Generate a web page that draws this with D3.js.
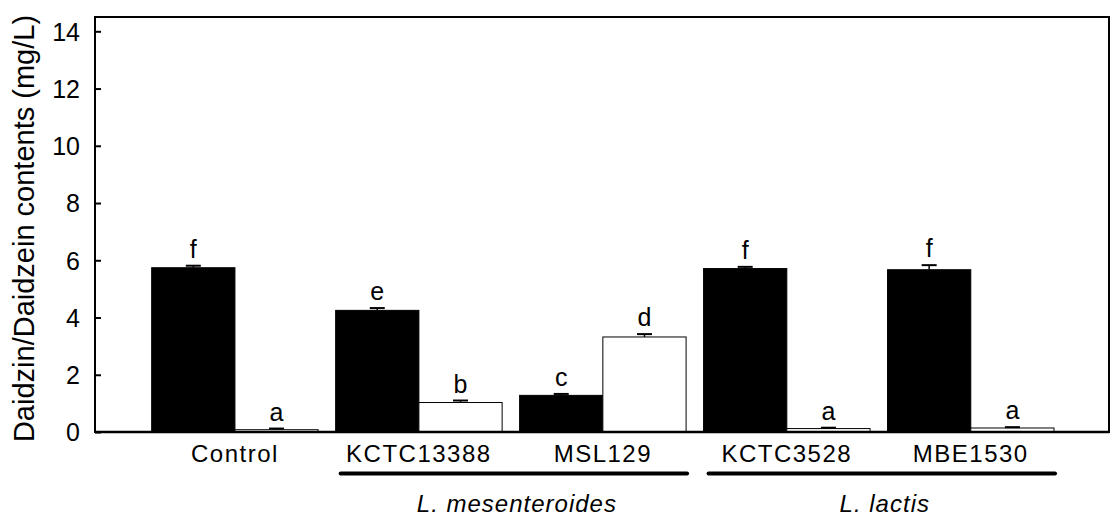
<!DOCTYPE html>
<html>
<head>
<meta charset="utf-8">
<script src="https://cdn.jsdelivr.net/npm/d3@7"></script>
<style>
  html, body { margin: 0; padding: 0; background: #fff; }
  svg text { font-family: Arial, "Liberation Sans", sans-serif; fill: #000; }
</style>
</head>
<body>
<svg id="chart" width="1120" height="523"></svg>
<script>
const groups = ["Control", "KCTC13388", "MSL129", "KCTC3528", "MBE1530"];
const daidzin = [5.74, 4.25, 1.28, 5.71, 5.67];
const daidzinErr = [0.07, 0.08, 0.05, 0.06, 0.16];
const daidzein = [0.08, 1.03, 3.32, 0.12, 0.14];
const daidzeinErr = [0.04, 0.07, 0.10, 0.03, 0.03];
const lettersDaidzin = ["f", "e", "c", "f", "f"];
const lettersDaidzein = ["a", "b", "d", "a", "a"];
const yTicks = [0, 2, 4, 6, 8, 10, 12, 14];
const species = ["L. mesenteroides", "L. lactis"];
const speciesMembers = [["KCTC13388", "MSL129"], ["KCTC3528", "MBE1530"]];
const yLabel = "Daidzin/Daidzein contents (mg/L)";

(function () {
const svg = d3.select("#chart");
const mLeft = 95, mRight = 1109, mTop = 17, mBottom = 432;

const x = d3.scaleBand().domain(groups).range([142.95, 1062.75])
  .paddingInner(0.095).paddingOuter(0.0475);
const y = d3.scaleLinear().domain([0, 14.5]).range([mBottom, mTop]);
const half = x.bandwidth() / 2;

const series = [
  { vals: daidzin, errs: daidzinErr, letters: lettersDaidzin, fill: "#000", off: 0 },
  { vals: daidzein, errs: daidzeinErr, letters: lettersDaidzein, fill: "#fff", off: half }
];

series.forEach(s => {
  const g = svg.append("g");
  g.selectAll("rect").data(groups).join("rect")
    .attr("x", d => x(d) + s.off)
    .attr("y", (d, i) => y(s.vals[i]))
    .attr("width", half)
    .attr("height", (d, i) => y(0) - y(s.vals[i]))
    .attr("fill", s.fill)
    .attr("stroke", "#000")
    .attr("stroke-width", 1);
  g.selectAll("line.err").data(groups).join("line").attr("class", "err")
    .attr("x1", d => x(d) + s.off + half / 2)
    .attr("x2", d => x(d) + s.off + half / 2)
    .attr("y1", (d, i) => y(s.vals[i]))
    .attr("y2", (d, i) => y(s.vals[i] + s.errs[i]))
    .attr("stroke", "#000").attr("stroke-width", 1.5);
  g.selectAll("line.cap").data(groups).join("line").attr("class", "cap")
    .attr("x1", d => x(d) + s.off + half / 2 - 7.5)
    .attr("x2", d => x(d) + s.off + half / 2 + 7.5)
    .attr("y1", (d, i) => y(s.vals[i] + s.errs[i]))
    .attr("y2", (d, i) => y(s.vals[i] + s.errs[i]))
    .attr("stroke", "#000").attr("stroke-width", 2);
  g.selectAll("text").data(groups).join("text")
    .attr("x", d => x(d) + s.off + half / 2)
    .attr("y", (d, i) => y(s.vals[i] + s.errs[i]) - 8)
    .attr("text-anchor", "middle")
    .attr("font-size", 25)
    .text((d, i) => s.letters[i]);
});

svg.append("rect").attr("x", mLeft).attr("y", mTop)
  .attr("width", mRight - mLeft).attr("height", mBottom - mTop)
  .attr("fill", "none").attr("stroke", "#000").attr("stroke-width", 2);
svg.append("line").attr("x1", mLeft).attr("x2", mRight)
  .attr("y1", mBottom).attr("y2", mBottom)
  .attr("stroke", "#000").attr("stroke-width", 2.5);

const yAxis = d3.axisLeft(y).tickValues(yTicks).tickSizeInner(-6).tickSizeOuter(0).tickPadding(15);
const ya = svg.append("g").attr("transform", `translate(${mLeft},0)`).call(yAxis);
ya.select(".domain").remove();
ya.selectAll(".tick line").attr("stroke", "#000").attr("stroke-width", 2);
ya.selectAll(".tick text").attr("font-size", 25).attr("font-family", "Arial, 'Liberation Sans', sans-serif")
  .attr("fill", "#000").attr("dy", "0.35em");

svg.append("text")
  .attr("transform", `translate(34,${(mTop + mBottom) / 2 + 4}) rotate(-90)`)
  .attr("text-anchor", "middle")
  .attr("font-size", 29)
  .text(yLabel);

svg.append("g").selectAll("text").data(groups).join("text")
  .attr("x", d => x(d) + x.bandwidth() / 2)
  .attr("y", 461.5)
  .attr("text-anchor", "middle")
  .attr("font-size", 24)
  .attr("letter-spacing", 1.5)
  .text(d => d);

species.forEach((sp, i) => {
  const m = speciesMembers[i];
  const x1 = x(m[0]) + 5, x2 = x(m[m.length - 1]) + x.bandwidth() + 1;
  svg.append("line").attr("x1", x1).attr("x2", x2).attr("y1", 473.5).attr("y2", 473.5)
    .attr("stroke", "#000").attr("stroke-width", 4).attr("stroke-linecap", "round");
  svg.append("text").attr("x", (x1 + x2) / 2 + 3).attr("y", 511.5)
    .attr("text-anchor", "middle").attr("font-size", 24).attr("font-style", "italic")
    .attr("letter-spacing", 1)
    .text(sp);
});
})();
</script>
</body>
</html>
